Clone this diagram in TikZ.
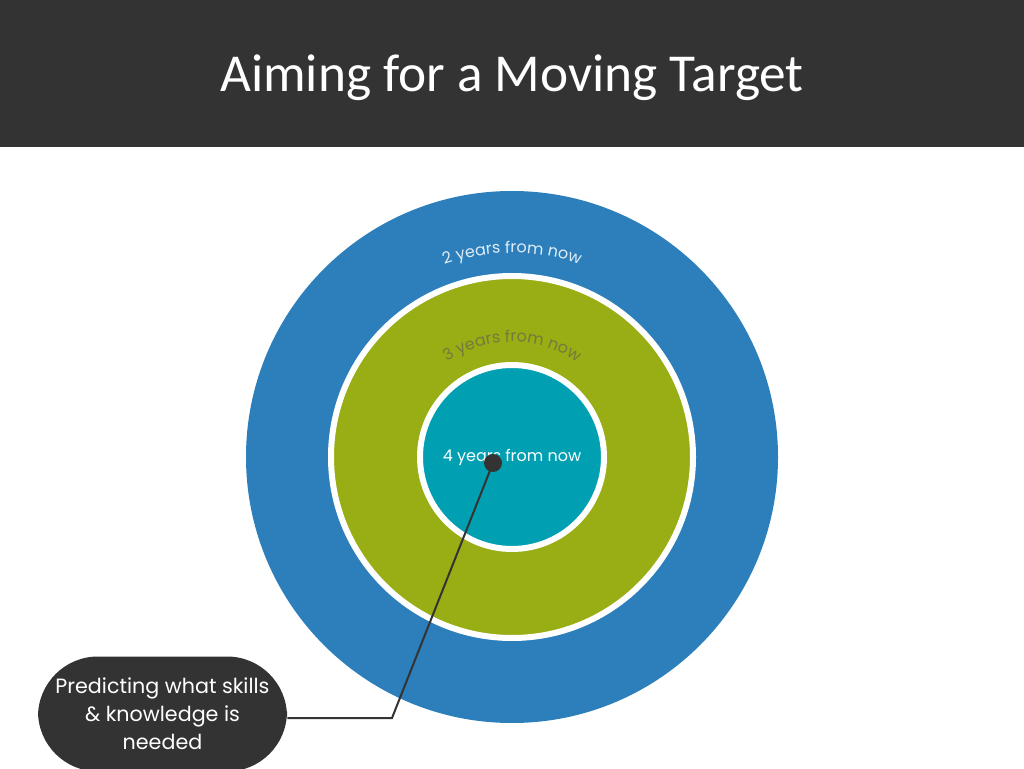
\documentclass[tikz,border=0pt]{standalone}
\usepackage{fontspec}
\setmainfont{Carlito}
\newfontfamily\lblfont{Poppins}
\usetikzlibrary{decorations.text}
\definecolor{hdr}{HTML}{333333}
\definecolor{ringblue}{HTML}{2C7FBA}
\definecolor{ringgreen}{HTML}{99AD14}
\definecolor{ringteal}{HTML}{00A0B2}
\definecolor{callout}{HTML}{333333}
\begin{document}
\begin{tikzpicture}[x=0.75pt,y=0.75pt,
  ring/.style={draw=white,line width=4.5pt},
  arclbl/.style={decoration={text along path,text align=center,text={#1}},decorate}]
\useasboundingbox (0,0) rectangle (1024,768);
\fill[white] (0,0) rectangle (1024,768);
\fill[hdr] (0,621) rectangle (1024,768);
\node[text=white,font=\fontsize{40}{46}\selectfont] (title) at (512,690) {Aiming for a Moving Target};
\fill[ringblue] (512,311) circle[radius=266];
\draw[ring,fill=ringgreen] (512,311) circle[radius=181];
\draw[ring,fill=ringteal] (512,311) circle[radius=92];
\path[arclbl={|\lblfont\fontsize{12}{14}\selectfont\color{white!85!ringblue}|2 years from now}]
  (512,311) ++(118:204) arc[start angle=118,end angle=62,radius=204];
\path[arclbl={|\lblfont\fontsize{12}{14}\selectfont\color{black!30!gray!60!ringgreen}|3 years from now}]
  (512,311) ++(142:115) arc[start angle=142,end angle=38,radius=115];
\node[text=white,font=\lblfont\fontsize{12}{14}\selectfont] (four) at (512,311) {4 years from now};
\node[fill=callout,rounded corners=45pt,minimum width=249*0.75pt,minimum height=115*0.75pt,
  text=white,align=center,font=\lblfont\fontsize{15.5}{21}\selectfont,inner sep=0pt] (call) at (162.5,54)
  {Predicting what skills\\ \& knowledge is\\ needed};
\coordinate (bend) at (392,50);
\fill[hdr] (493,305) circle[radius=9] coordinate (dot);
\draw[hdr,line width=1.5pt] (dot) -- (bend) -- (call.east |- bend);
\end{tikzpicture}
\end{document}
